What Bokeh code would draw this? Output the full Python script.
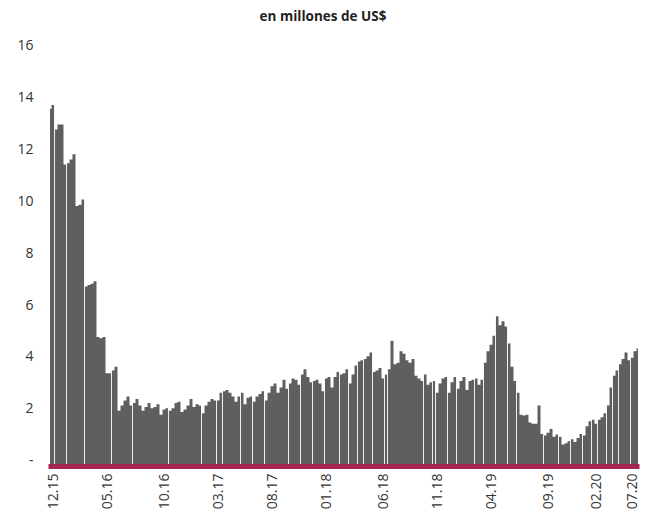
import math
from bokeh.plotting import figure
from bokeh.models import Range1d, FixedTicker, Label
from bokeh.embed import file_html
from bokeh.resources import INLINE

# Daily balance, en millones de US$ (one bar per observation block)
values = [
    13.55, 13.7, 12.75, 12.95, 12.95, 11.4, 11.45, 11.6, 11.8, 9.8,
    9.85, 10.05, 6.7, 6.75, 6.8, 6.9, 4.75, 4.7, 4.75, 3.35,
    3.35, 3.45, 3.6, 1.9, 2.1, 2.3, 2.45, 2.1, 2.2, 2.35,
    2.1, 1.9, 2.05, 2.2, 2.0, 2.05, 2.15, 1.75, 1.95, 2.0,
    1.9, 2.0, 2.2, 2.25, 1.85, 1.95, 2.1, 2.35, 2.05, 2.15,
    2.1, 1.8, 2.1, 2.25, 2.35, 2.3, 2.3, 2.6, 2.65, 2.7,
    2.6, 2.45, 2.25, 2.45, 2.6, 2.15, 2.4, 2.45, 2.25, 2.45,
    2.55, 2.65, 2.3, 2.6, 2.85, 2.95, 2.6, 2.8, 3.1, 2.75,
    2.95, 3.15, 3.1, 2.9, 3.3, 3.5, 3.2, 3.0, 3.05, 3.1,
    2.95, 2.65, 3.15, 3.2, 2.8, 3.2, 3.4, 3.3, 3.35, 3.5,
    2.95, 3.3, 3.65, 3.8, 3.85, 3.9, 4.0, 4.15, 3.4, 3.45,
    3.55, 3.15, 3.3, 3.5, 4.6, 3.7, 3.75, 4.2, 4.1, 3.85,
    3.75, 3.9, 3.25, 3.15, 3.05, 3.3, 2.9, 3.0, 3.05, 2.6,
    2.95, 3.15, 3.2, 2.6, 3.0, 3.2, 2.75, 3.05, 3.2, 2.7,
    3.05, 3.1, 3.15, 2.9, 3.1, 3.75, 4.2, 4.45, 4.8, 5.55,
    5.2, 5.35, 5.15, 4.5, 3.6, 3.05, 2.6, 1.75, 1.72, 1.75,
    1.45, 1.4, 1.4, 2.1, 1.0, 0.95, 1.05, 1.2, 0.9, 0.98,
    0.9, 0.6, 0.65, 0.72, 0.8, 0.7, 0.85, 1.0, 0.95, 1.3,
    1.5, 1.55, 1.4, 1.55, 1.65, 1.8, 2.1, 2.8, 3.25, 3.45,
    3.7, 3.9, 4.15, 3.85, 3.95, 4.2, 4.3,
]

# observations after which a day is missing (white gaps)
missing_after = [1, 5, 11, 20, 27, 39, 50, 55, 57, 63, 67, 71, 79, 83, 87, 91,
                 96, 99, 102, 104, 107, 111, 112, 124, 127, 128, 132, 135, 141,
                 144, 148, 152, 155, 164, 169, 173, 177, 180, 182, 185, 187, 189, 193]

tick_idx = [1, 19, 38, 56, 74, 92, 111, 129, 147, 166, 182, 194]
tick_labels = ["12.15", "05.16", "10.16", "03.17", "08.17", "01.18",
               "06.18", "11.18", "04.19", "09.19", "02.20", "07.20"]
y_ticks = [0, 2, 4, 6, 8, 10, 12, 14, 16]
y_labels = ["-", "2", "4", "6", "8", "10", "12", "14", "16"]
title_text = "en millones de US$"

BAR = "#5f605e"
CRIMSON = "#a3244f"
FONT = "Open Sans"

n = len(values)
# the plot area extends above the 16 tick to hold the heading
p = figure(width=641, height=512, output_backend="svg", toolbar_location=None,
           x_range=Range1d(-0.5, n - 0.5), y_range=Range1d(-0.25, 17.5),
           min_border_left=48, min_border_right=2, min_border_top=6,
           min_border_bottom=44, background_fill_color="white",
           border_fill_color="white")
p.outline_line_color = None
p.grid.visible = False

p.varea_step(x=list(range(n)), y1=[-1] * n, y2=values, step_mode="center",
             fill_color=BAR)
p.vbar(x=[i + 0.5 for i in missing_after], top=16, bottom=-1, width=0.3,
       fill_color="white", line_color=None)

# x axis
xa = p.xaxis[0]
xa.ticker = FixedTicker(ticks=tick_idx)
xa.major_label_overrides = {t: l for t, l in zip(tick_idx, tick_labels)}
xa.major_label_orientation = math.pi / 2
xa.axis_line_color = CRIMSON
xa.axis_line_width = 5
xa.major_tick_line_color = None
xa.minor_tick_line_color = None
xa.major_tick_out = 0
xa.major_tick_in = 0
xa.major_label_standoff = 7
xa.major_label_text_font = FONT
xa.major_label_text_font_size = "14px"
xa.major_label_text_color = "#333333"

# y axis
ya = p.yaxis[0]
ya.ticker = FixedTicker(ticks=y_ticks)
ya.major_label_overrides = {t: l for t, l in zip(y_ticks, y_labels)}
ya.axis_line_color = None
ya.major_tick_line_color = None
ya.minor_tick_line_color = None
ya.major_tick_out = 0
ya.major_tick_in = 0
ya.major_label_standoff = 15
ya.major_label_text_font = FONT
ya.major_label_text_font_size = "14px"
ya.major_label_text_color = "#333333"

# heading
p.add_layout(Label(x=91, y=17.12, text=title_text, text_align="center",
                   text_baseline="middle", text_font=FONT,
                   text_font_size="13.5px", text_font_style="bold",
                   text_color="#222222"))

open("out.html", "w").write(file_html(p, INLINE))
